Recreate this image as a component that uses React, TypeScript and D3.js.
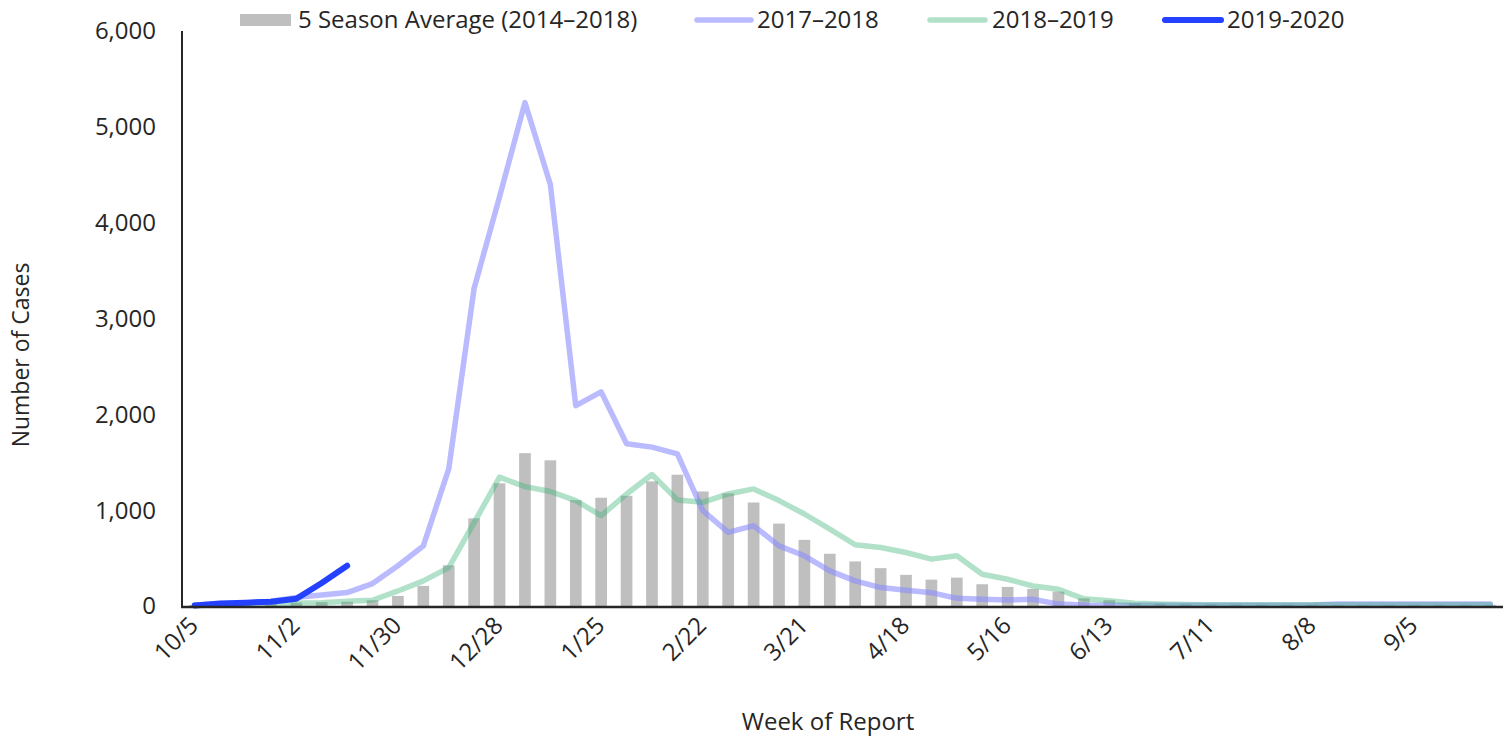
import React from "react";
import * as d3 from "d3";

const weeks = [
  "10/5","10/12","10/19","10/26","11/2","11/9","11/16","11/23","11/30","12/7","12/14","12/21","12/28",
  "1/4","1/11","1/18","1/25","2/1","2/8","2/15","2/22","2/29","3/7","3/14","3/21","3/28",
  "4/4","4/11","4/18","4/25","5/2","5/9","5/16","5/23","5/30","6/6","6/13","6/20","6/27",
  "7/4","7/11","7/18","7/25","8/1","8/8","8/15","8/22","8/29","9/5","9/12","9/19","9/26",
];

const tickLabels = ["10/5","11/2","11/30","12/28","1/25","2/22","3/21","4/18","5/16","6/13","7/11","8/8","9/5"];

const yTicks = [0, 1000, 2000, 3000, 4000, 5000, 6000];

const avg5 = [
  10, 15, 20, 25, 35, 40, 45, 60, 105, 210, 425, 915, 1280,
  1595, 1520, 1105, 1130, 1150, 1300, 1370, 1195, 1175, 1080, 860, 690, 545,
  465, 395, 325, 275, 296, 227, 199, 178, 150, 80, 60, 30, 25,
  20, 18, 16, 15, 14, 14, 13, 13, 12, 12, 12, 12, 12,
];

const s2017 = [
  10, 20, 30, 50, 90, 115, 140, 234, 420, 628, 1431, 3316, 4270,
  5253, 4398, 2090, 2234, 1693, 1658, 1588, 995, 768, 838, 628, 524, 366,
  262, 192, 164, 139, 80, 70, 63, 70, 20, 10, 8, 8, 8,
  8, 8, 8, 8, 8, 10, 20, 22, 22, 22, 22, 22, 22,
];

const s2018 = [
  5, 10, 15, 20, 30, 35, 50, 60, 157, 262, 401, 870, 1344,
  1246, 1195, 1100, 942, 1169, 1372, 1107, 1082, 1169, 1222, 1100, 960, 803,
  639, 611, 558, 489, 524, 332, 279, 209, 175, 75, 55, 30, 20,
  15, 14, 13, 12, 12, 12, 12, 12, 12, 12, 12, 12, 12,
];

const s2019 = [5, 25, 35, 45, 75, 240, 420];

const FONT = "'Open Sans', sans-serif";
const TEXT = "#262626";

export default function App() {
  const W = 1511;
  const H = 740;
  const x = d3.scaleBand<string>().domain(weeks).range([182, 1503]).padding(0);
  const bw = x.bandwidth();
  const y = d3.scaleLinear().domain([0, 6000]).range([606, 31]);
  const cx = (w: string) => (x(w) as number) + bw / 2;

  const line = d3
    .line<number>()
    .x((_, i) => cx(weeks[i]))
    .y((d) => y(d));

  const barW = bw * 0.46;
  const fmt = d3.format(",");

  const legendY = 20;

  return (
    <svg
      width={W}
      height={H}
      style={{ position: "absolute", left: 0, top: 0, display: "block", background: "#fff" }}
      fontFamily={FONT}
    >
      {/* bars */}
      {avg5.map((v, i) => (
        <rect
          key={"b" + i}
          x={cx(weeks[i]) - barW / 2}
          y={y(v)}
          width={barW}
          height={y(0) - y(v)}
          fill="#bfbfbf"
        />
      ))}

      {/* lines */}
      <path d={line(s2017) || ""} fill="none" stroke="#8c8cff" strokeOpacity={0.6} strokeWidth={5.5} strokeLinejoin="round" strokeLinecap="round" />
      <path d={line(s2018) || ""} fill="none" stroke="#3cb478" strokeOpacity={0.4} strokeWidth={5.5} strokeLinejoin="round" strokeLinecap="round" />
      <path d={line(s2019) || ""} fill="none" stroke="#2341ff" strokeWidth={6} strokeLinejoin="round" strokeLinecap="round" />

      {/* axes */}
      <line x1={182} x2={182} y1={31} y2={608} stroke="#262626" strokeWidth={2} />
      <line x1={181} x2={1503} y1={607} y2={607} stroke="#262626" strokeWidth={2.5} />

      {/* y ticks */}
      {yTicks.map((t) => (
        <text key={"y" + t} x={156} y={y(t)} dy="0.35em" textAnchor="end" fontSize={24} fill={TEXT}>
          {fmt(t)}
        </text>
      ))}

      {/* x ticks */}
      {tickLabels.map((t) => (
        <text
          key={"x" + t}
          transform={`translate(${cx(t) + 5},${627}) rotate(-45)`}
          textAnchor="end"
          fontSize={24}
          fill={TEXT}
        >
          {t}
        </text>
      ))}

      {/* axis titles */}
      <text x={828} y={730} textAnchor="middle" fontSize={24} fill={TEXT}>
        Week of Report
      </text>
      <text transform={`translate(29,355) rotate(-90)`} textAnchor="middle" fontSize={23} fill={TEXT}>
        Number of Cases
      </text>

      {/* legend */}
      <rect x={240} y={legendY - 6} width={51} height={12} fill="#bfbfbf" />
      <text x={298} y={legendY} dy="0.35em" fontSize={24} fill={TEXT}>5 Season Average (2014–2018)</text>

      <line x1={697} x2={751} y1={legendY} y2={legendY} stroke="#8c8cff" strokeOpacity={0.6} strokeWidth={5.5} strokeLinecap="round" />
      <text x={757} y={legendY} dy="0.35em" fontSize={24} fill={TEXT}>2017–2018</text>

      <line x1={930} x2={985} y1={legendY} y2={legendY} stroke="#3cb478" strokeOpacity={0.4} strokeWidth={5.5} strokeLinecap="round" />
      <text x={992} y={legendY} dy="0.35em" fontSize={24} fill={TEXT}>2018–2019</text>

      <line x1={1165} x2={1221} y1={legendY} y2={legendY} stroke="#2341ff" strokeWidth={6} strokeLinecap="round" />
      <text x={1227} y={legendY} dy="0.35em" fontSize={24} fill={TEXT}>2019-2020</text>
    </svg>
  );
}
